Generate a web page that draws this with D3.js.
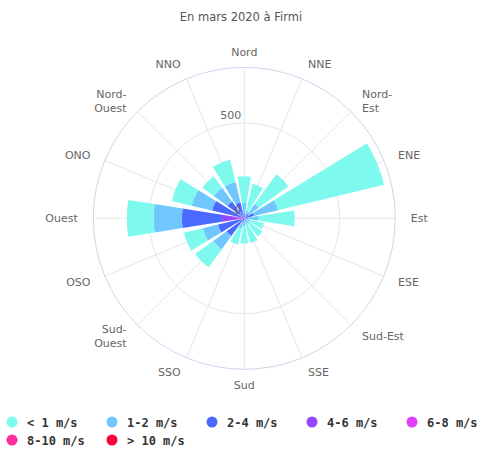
<!DOCTYPE html>
<html>
<head>
<meta charset="utf-8">
<script src="https://cdn.jsdelivr.net/npm/d3@7"></script>
<style>
  body { margin: 0; background: #fff; }
  text { font-family: "DejaVu Sans", sans-serif; }
</style>
</head>
<body>
<div id="chart"></div>
<script>
// directions, clockwise from north
const categories = ["Nord", "NNE", "Nord-Est", "ENE", "Est", "ESE", "Sud-Est", "SSE",
  "Sud", "SSO", "Sud-Ouest", "OSO", "Ouest", "ONO", "Nord-Ouest", "NNO"];
// labels that wrap after the hyphen
const wrapped = ["Nord-Est", "Sud-Ouest", "Nord-Ouest"];

const speeds = ["< 1 m/s", "1-2 m/s", "2-4 m/s", "4-6 m/s", "6-8 m/s", "8-10 m/s", "> 10 m/s"];
const colors = ["#7ef9ee", "#70c6fe", "#4a6aff", "#9747ff", "#e040fb", "#ff2d9a", "#ff0040"];

// values per speed class, in the order of categories
const below1 = [141, 146, 192, 572, 192, 75, 85, 100, 90, 85, 117, 102, 140, 107, 74, 121];
const from1to2 = [55, 30, 65, 130, 55, 24, 25, 25, 30, 35, 87, 82, 148, 110, 89, 110];
const from2to4 = [20, 10, 25, 45, 18, 8, 8, 8, 12, 17, 105, 127, 210, 160, 100, 80];
const from4to6 = [5, 0, 4, 7, 0, 0, 0, 0, 0, 5, 10, 15, 78, 14, 9, 6];
const from6to8 = [0, 0, 0, 0, 0, 0, 0, 0, 0, 0, 0, 0, 30, 0, 0, 0];
const from8to10 = [0, 0, 0, 0, 0, 0, 0, 0, 0, 0, 0, 0, 10, 0, 0, 0];
const above10 = [0, 0, 0, 0, 0, 0, 0, 0, 0, 0, 0, 0, 0, 0, 0, 0];

const series = [below1, from1to2, from2to4, from4to6, from6to8, from8to10, above10];
const yTicks = [0, 500];
const title = "En mars 2020 à Firmi";

const width = 482, height = 454;
const cx = 244.3, cy = 218.3, radius = 151;

const svg = d3.select("#chart").append("svg")
  .attr("width", width)
  .attr("height", height);

svg.append("text")
  .attr("x", width / 2)
  .attr("y", 21)
  .attr("text-anchor", "middle")
  .attr("fill", "#555")
  .style("font-size", "11.5px")
  .text(title);

//stack from the center outwards: last series in the middle, first on the outside
const rows = categories.map((c, i) => {
  const row = { dir: c };
  speeds.forEach((s, k) => { row[s] = series[k][i]; });
  return row;
});
const stack = d3.stack().keys(speeds.slice().reverse());
const layers = stack(rows);

const totals = rows.map(r => d3.sum(speeds, s => r[s]));
const y = d3.scaleLinear()
  .domain([0, d3.max(totals) * 1.05])
  .range([0, radius]);

const step = 2 * Math.PI / categories.length;
const angle = i => i * step;

const g = svg.append("g").attr("transform", `translate(${cx},${cy})`);

//grid
g.selectAll(".spoke")
  .data(categories)
  .enter().append("line")
  .attr("x1", 0).attr("y1", 0)
  .attr("x2", (d, i) => radius * Math.sin(angle(i)))
  .attr("y2", (d, i) => -radius * Math.cos(angle(i)))
  .attr("stroke", "#e6e6e6")
  .attr("stroke-width", 1);

g.selectAll(".ring")
  .data(yTicks.filter(t => t > 0))
  .enter().append("circle")
  .attr("r", d => y(d))
  .attr("fill", "none")
  .attr("stroke", "#e6e6e6");

g.append("circle")
  .attr("r", radius)
  .attr("fill", "none")
  .attr("stroke", "#ccd6eb");

//bars
const arc = d3.arc()
  .innerRadius(d => y(d[0]))
  .outerRadius(d => y(d[1]))
  .startAngle(d => angle(d.i) - step * 0.4)
  .endAngle(d => angle(d.i) + step * 0.4);

g.selectAll(".layer")
  .data(layers)
  .enter().append("g")
  .attr("fill", d => colors[speeds.indexOf(d.key)])
  .selectAll("path")
  .data(d => d.map((p, i) => { p.i = i; return p; }).filter(p => p[1] > p[0]))
  .enter().append("path")
  .attr("d", arc);

//y labels
g.selectAll(".ylabel")
  .data(yTicks)
  .enter().append("text")
  .attr("x", -3)
  .attr("y", d => -y(d) - 4)
  .attr("text-anchor", "end")
  .attr("fill", "#666")
  .style("font-size", "11px")
  .text(d => d);

//direction labels
const lr = radius + 15.5;
const labels = g.selectAll(".xlabel")
  .data(categories)
  .enter().append("text")
  .attr("fill", "#666")
  .style("font-size", "11px")
  .attr("text-anchor", (d, i) => {
    const s = Math.sin(angle(i));
    return Math.abs(s) < 0.1 ? "middle" : (s > 0 ? "start" : "end");
  });

labels.each(function(d, i) {
  const lines = wrapped.includes(d) ? [d.split("-")[0] + "-", d.split("-")[1]] : [d];
  const x = lr * Math.sin(angle(i));
  const yc = -lr * Math.cos(angle(i));
  const lh = 14;
  d3.select(this).selectAll("tspan")
    .data(lines)
    .enter().append("tspan")
    .attr("x", x)
    .attr("y", (t, k) => yc + 4 + (k - (lines.length - 1) / 2) * lh)
    .text(t => t);
});

//legend
const legend = svg.append("g");
const item = legend.selectAll(".item")
  .data(speeds)
  .enter().append("g")
  .attr("transform", (d, i) => `translate(${12 + (i % 5) * 100},${422 + Math.floor(i / 5) * 18})`);

item.append("circle")
  .attr("r", 5.5)
  .attr("fill", (d, i) => colors[i]);

item.append("text")
  .attr("x", 15)
  .attr("y", 4.5)
  .attr("fill", "#333")
  .style("font-family", "'DejaVu Sans Mono', monospace")
  .style("font-size", "12px")
  .style("font-weight", "bold")
  .text(d => d);
</script>
</body>
</html>
